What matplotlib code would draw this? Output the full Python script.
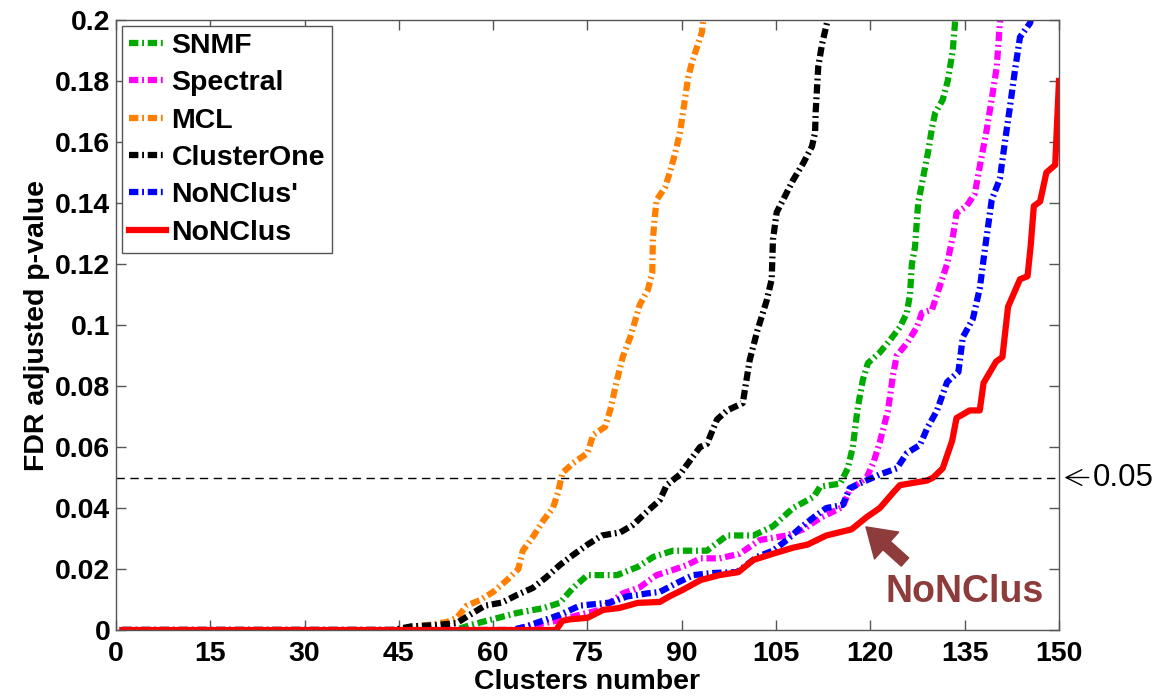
import matplotlib
matplotlib.use('Agg')
import matplotlib.pyplot as plt

plt.rcParams['font.family'] = ['Liberation Sans', 'DejaVu Sans']
plt.rcParams['font.weight'] = 'bold'
plt.rcParams['axes.labelweight'] = 'bold'

# sorted FDR adjusted p-values as (cluster index, value) points
snmf_x = [1, 54, 56.3, 59.5, 63.8, 68, 70.6, 72.7, 75, 79.7, 83, 85.5, 88.6, 94, 97.2, 101.4, 104.5,
          107.7, 111, 112, 115.2, 116.4, 117.2, 118, 118.8, 119.6, 121.5, 123.1, 124.7, 125.8, 126.3,
          126.6, 127.1, 127.6, 128.4, 129.2, 129.8, 130.3, 131.5, 132.3, 133.1, 133.5, 135]
snmf_y = [0, 0, 0.0016, 0.0033, 0.0056, 0.0072, 0.0089, 0.0138, 0.018, 0.018, 0.0207, 0.024, 0.026,
          0.026, 0.031, 0.031, 0.034, 0.040, 0.0437, 0.047, 0.048, 0.053, 0.060, 0.073, 0.082, 0.0875,
          0.091, 0.095, 0.0993, 0.104, 0.110, 0.120, 0.1256, 0.14, 0.1485, 0.157, 0.1646, 0.1695,
          0.1738, 0.18, 0.19, 0.2, 0.22]

spectral_x = [1, 63, 65, 70, 73.8, 77, 80.6, 83.3, 86, 88.6, 90.8, 93, 96, 99.2, 102.4, 106.7, 109.3,
              112, 115.6, 116.7, 119.4, 120.5, 121.5, 122.8, 123.6, 124.2, 125.8, 127.4, 128.2, 129.8,
              131, 132.2, 133.2, 133.7, 135.3, 136.6, 137.4, 138.5, 139.3, 140.1, 140.6, 142]
spectral_y = [0, 0, 0.001, 0.003, 0.005, 0.0066, 0.012, 0.014, 0.018, 0.0197, 0.0213, 0.0235, 0.0235,
              0.025, 0.0295, 0.031, 0.033, 0.0367, 0.0404, 0.046, 0.050, 0.055, 0.0616, 0.072, 0.0836,
              0.090, 0.094, 0.0993, 0.104, 0.105, 0.1125, 0.120, 0.130, 0.1367, 0.139, 0.143, 0.152,
              0.164, 0.174, 0.1846, 0.199, 0.22]

mcl_x = [1, 45, 46.8, 49.5, 52.6, 54.2, 55.8, 57.9, 60, 62.2, 64, 64.7, 66.3, 68, 69.5, 70.3, 71, 72.7,
         75, 75.9, 77.8, 78.6, 79.7, 80.6, 81.8, 82.6, 83.3, 84.6, 85.3, 85.4, 85.7, 86, 87.3, 88.1,
         88.9, 89.7, 90.5, 91, 91.6, 92.4, 93.2, 93.4, 94.5]
mcl_y = [0, 0, 0.001, 0.0016, 0.0026, 0.004, 0.008, 0.0098, 0.0125, 0.0164, 0.020, 0.026, 0.0305,
         0.036, 0.040, 0.045, 0.0515, 0.0547, 0.058, 0.064, 0.0666, 0.072, 0.082, 0.0895, 0.096,
         0.1016, 0.1066, 0.1115, 0.117, 0.128, 0.1354, 0.141, 0.145, 0.150, 0.156, 0.163, 0.174,
         0.181, 0.186, 0.191, 0.196, 0.2, 0.22]

clusterone_x = [1, 44, 47, 51, 54.2, 56.3, 58.7, 61.4, 63.8, 66.3, 68.5, 70.6, 72.7, 75, 77.3, 80.2,
                82.2, 84.4, 86.5, 87.6, 89.7, 91, 92.9, 94, 95.6, 97.2, 99.7, 100.8, 102, 103.5, 104.3,
                104.5, 105.1, 106.1, 107.7, 109.3, 110.7, 111.2, 111.3, 111.7, 112.3, 113.2, 114]
clusterone_y = [0, 0, 0.0012, 0.0016, 0.0023, 0.005, 0.008, 0.009, 0.0115, 0.0138, 0.0174, 0.0213,
                0.0246, 0.028, 0.031, 0.032, 0.0344, 0.0387, 0.0426, 0.0475, 0.051, 0.0547, 0.060,
                0.061, 0.069, 0.072, 0.0744, 0.0885, 0.098, 0.108, 0.115, 0.128, 0.137, 0.141, 0.1475,
                0.153, 0.1585, 0.163, 0.170, 0.1846, 0.192, 0.2, 0.22]

nonclus2_x = [1, 63, 65, 70.6, 73.8, 78.6, 81.3, 84.5, 86.5, 89.2, 91.8, 95, 98.8, 102, 104.5, 106.7,
              108.8, 111, 113, 115.6, 116.7, 118.8, 121.5, 124.2, 125.8, 127.9, 129, 130.6, 132.2, 134,
              134.7, 136.3, 137.4, 138.2, 139.3, 140.6, 141.4, 142.2, 143, 143.8, 145.4, 147]
nonclus2_y = [0, 0, 0.001, 0.005, 0.008, 0.009, 0.011, 0.012, 0.0125, 0.0154, 0.018, 0.0187, 0.019,
              0.024, 0.026, 0.0295, 0.0334, 0.037, 0.040, 0.041, 0.0465, 0.0485, 0.051, 0.053, 0.058,
              0.0607, 0.066, 0.072, 0.0813, 0.0846, 0.096, 0.102, 0.112, 0.1246, 0.141, 0.148, 0.16,
              0.1715, 0.1836, 0.1944, 0.199, 0.215]

nonclus_x = [1, 70, 71, 72.2, 75, 77.5, 80, 83, 86.5, 88, 90, 93, 96, 99, 101.4, 104.5, 107.7, 110,
             113, 117, 119.4, 121.5, 123.6, 124.7, 129, 130, 131.5, 133, 133.7, 135.8, 137.4, 138, 140,
             141, 141.9, 143.8, 145, 145.5, 146, 147, 148, 149.4, 150]
nonclus_y = [0, 0, 0.003, 0.0035, 0.004, 0.0066, 0.0072, 0.0089, 0.0092, 0.011, 0.013, 0.0164, 0.018,
             0.019, 0.023, 0.025, 0.027, 0.028, 0.031, 0.033, 0.037, 0.040, 0.045, 0.0475, 0.049, 0.050,
             0.053, 0.062, 0.0695, 0.072, 0.072, 0.081, 0.088, 0.0895, 0.106, 0.115, 0.116, 0.126,
             0.139, 0.1405, 0.15, 0.1525, 0.18]

threshold = 0.05
xticks = list(range(0, 151, 15))
yticks = [0, 0.02, 0.04, 0.06, 0.08, 0.1, 0.12, 0.14, 0.16, 0.18, 0.2]
ytick_labels = ['0', '0.02', '0.04', '0.06', '0.08', '0.1', '0.12', '0.14', '0.16', '0.18', '0.2']

fig = plt.figure(figsize=(11.59, 6.97), dpi=100)
ax = fig.add_axes([0.1001, 0.0961, 0.8136, 0.8752])

dashdot = (0, (1.5, 0.6, 0.3, 0.6))
lw = 4.5
ax.plot(snmf_x, snmf_y, color='#00AA00', lw=lw, ls=dashdot, label='SNMF')
ax.plot(spectral_x, spectral_y, color='#FF00FF', lw=lw, ls=dashdot, label='Spectral')
ax.plot(mcl_x, mcl_y, color='#FF8000', lw=lw, ls=dashdot, label='MCL')
ax.plot(clusterone_x, clusterone_y, color='black', lw=lw, ls=dashdot, label='ClusterOne')
ax.plot(nonclus2_x, nonclus2_y, color='#0000FF', lw=lw, ls=dashdot, label="NoNClus'")
ax.plot(nonclus_x, nonclus_y, color='#FF0000', lw=4.5, ls='-', label='NoNClus')

ax.axhline(threshold, color='black', lw=1, ls=(0, (6, 4)))

ax.set_xlim(0, 150)
ax.set_ylim(0, 0.2)
ax.set_xticks(xticks)
ax.set_yticks(yticks)
ax.set_yticklabels(ytick_labels)
ax.tick_params(direction='in', length=7, width=1, colors='#555555', labelcolor='black',
               labelsize=20.5, top=True, right=True)
ax.tick_params(axis='x', pad=8)
ax.tick_params(axis='y', pad=4)
for s in ax.spines.values():
    s.set_color('#555555')
    s.set_linewidth(1)

ax.set_xlabel('Clusters number', fontsize=20.5, labelpad=1)
ax.set_ylabel('FDR adjusted p-value', fontsize=20.5, labelpad=4)

leg = ax.legend(loc='upper left', handlelength=1.3, handletextpad=0.2,
                labelspacing=0.4, borderpad=0.25, borderaxespad=0.2, fancybox=False,
                framealpha=1, prop={'weight': 'bold', 'size': 20.5})
leg.get_frame().set_edgecolor('#555555')
leg.get_frame().set_linewidth(1)

# highlight arrow + label
brown = '#8E3B3B'
ax.annotate('', xy=(119.3, 0.0338), xytext=(125.5, 0.0223),
            arrowprops=dict(arrowstyle='simple,head_length=0.5,head_width=0.65,tail_width=0.2',
                            color=brown, mutation_scale=40, shrinkA=0, shrinkB=0))
ax.text(135, 0.0125, 'NoNClus', color=brown, fontsize=27, fontweight='bold',
        ha='center', va='center')

# threshold marker outside the right edge
ax.annotate('0.05', xy=(1.006, threshold), xycoords=('axes fraction', 'data'),
            xytext=(1.036, threshold), textcoords=('axes fraction', 'data'),
            fontsize=22.5, fontweight='normal', va='center', ha='left', annotation_clip=False,
            arrowprops=dict(arrowstyle='->,head_length=0.5,head_width=0.25', lw=1,
                            color='black', shrinkA=1, shrinkB=0))

fig.savefig('out.png', dpi=100)
